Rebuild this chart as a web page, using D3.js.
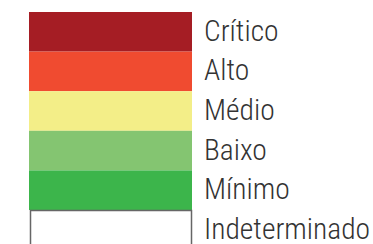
<!DOCTYPE html>
<html>
<head>
<meta charset="utf-8">
<title>Legenda de risco</title>
<style>
body {
    margin: 0px;
    overflow: hidden;
    background: #fff;
}
text {
    font-family: "Roboto Condensed", Roboto, sans-serif;
    font-weight: 300;
    fill: #333;
}
</style>
<script src="https://cdnjs.cloudflare.com/ajax/libs/d3/7.8.5/d3.min.js"></script>
</head>
<body>
<div id="legend"></div>
<script>
var categories = ["Crítico", "Alto", "Médio", "Baixo", "Mínimo", "Indeterminado"];
var colors = ["#a51d24", "#f04b30", "#f3ee88", "#84c571", "#3cb54b", "#ffffff"];

var width = 373,
    height = 244;

var svg = d3.select("#legend").append("svg")
        .attr("width", width)
        .attr("height", height);

var y = d3.scaleBand()
        .domain(categories)
        .range([12, 12 + 6 * 39.6])
        .padding(0);

var color = d3.scaleOrdinal()
        .domain(categories)
        .range(colors);

var rows = svg.selectAll("g.row")
        .data(categories)
        .enter().append("g")
        .attr("class", "row");

rows.append("rect")
    .attr("x", function (d) { return d === "Indeterminado" ? 30.5 : 29; })
    .attr("y", function (d) { return d === "Indeterminado" ? y(d) + 0.5 : y(d); })
    .attr("width", function (d) { return d === "Indeterminado" ? 161 : 163; })
    .attr("height", function (d) { return d === "Indeterminado" ? y.bandwidth() + 10 : y.bandwidth(); })
    .attr("fill", function (d) { return color(d); })
    .attr("stroke", function (d) { return d === "Indeterminado" ? "#666" : "none"; })
    .attr("stroke-width", 1.5);

rows.append("text")
    .attr("x", 204)
    .attr("y", function (d) { return y(d) + y.bandwidth() / 2 + 9; })
    .attr("font-size", 29.5)
    .text(function (d) { return d; });
</script>
</body>
</html>
